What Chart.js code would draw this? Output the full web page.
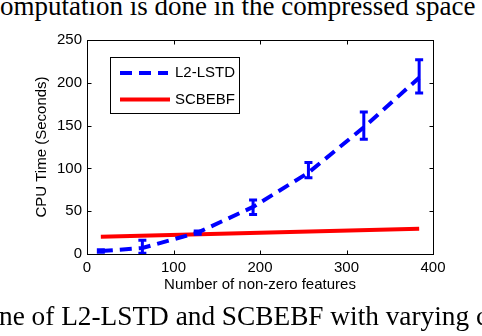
<!DOCTYPE html>
<html>
<head>
<meta charset="utf-8">
<script src="https://cdn.jsdelivr.net/npm/chart.js@4.4.1/dist/chart.umd.min.js"></script>
<style>
  html, body { margin: 0; padding: 0; background: #fff; }
  #wrap { position: relative; width: 482px; height: 336px; overflow: hidden; background: #fff; }
  #chart { position: absolute; left: 0; top: 0; }
  .caption { position: absolute; white-space: nowrap; font-family: "Liberation Serif", "Times New Roman", serif; color: #000; line-height: 30px; }
  #capTop { left: -12px; top: -9px; font-size: 27px; }
  #capBottom { left: -1px; top: 301px; font-size: 27.3px; }
</style>
</head>
<body>
<div id="wrap">
  <div class="caption" id="capTop">computation is done in the compressed space</div>
  <canvas id="chart" width="482" height="336"></canvas>
  <div class="caption" id="capBottom">ne of L2-LSTD and SCBEBF with varying c</div>
</div>
<script>
// values
const features = [16, 64, 128, 192, 256, 320, 384];
const lstdTime = [3.5, 7, 25, 55, 95, 148, 206];
const lstdLow = [2, 1, 23, 46, 89, 134, 188];
const lstdHigh = [5, 16, 27, 63, 107, 166, 227];
const scbebfX = [16, 384];
const scbebfTime = [20.2, 29.6];
const xTicks = [0, 100, 200, 300, 400];
const yTicks = [0, 50, 100, 150, 200, 250];

const axisFont = { family: "'Liberation Sans', Arial, Helvetica, sans-serif", size: 15 };

// matlab-style box, inward ticks, error bars and legend
const matlabDecor = {
  id: 'matlabDecor',
  afterDatasetsDraw(chart) {
    const ctx = chart.ctx;
    const xs = chart.scales.x, ys = chart.scales.y;
    const a = chart.chartArea;

    // error bars
    ctx.save();
    ctx.strokeStyle = '#0000ff';
    ctx.lineWidth = 3;
    for (let i = 0; i < features.length; i++) {
      const px = xs.getPixelForValue(features[i]);
      const lo = ys.getPixelForValue(lstdLow[i]);
      const hi = ys.getPixelForValue(lstdHigh[i]);
      ctx.beginPath();
      ctx.moveTo(px, lo); ctx.lineTo(px, hi);
      ctx.moveTo(px - 4, lo); ctx.lineTo(px + 4, lo);
      ctx.moveTo(px - 4, hi); ctx.lineTo(px + 4, hi);
      ctx.stroke();
    }
    ctx.restore();

    // box + ticks
    ctx.save();
    ctx.strokeStyle = '#000';
    ctx.lineWidth = 1;
    const L = Math.round(a.left) + 0.5, R = Math.round(a.right) + 0.5;
    const T = Math.round(a.top) + 0.5, B = Math.round(a.bottom) + 0.5;
    ctx.strokeRect(L, T, R - L, B - T);
    ctx.beginPath();
    xTicks.forEach(v => {
      const px = Math.round(xs.getPixelForValue(v)) + 0.5;
      ctx.moveTo(px, B); ctx.lineTo(px, B - 4);
      ctx.moveTo(px, T); ctx.lineTo(px, T + 4);
    });
    yTicks.forEach(v => {
      const py = Math.round(ys.getPixelForValue(v)) + 0.5;
      ctx.moveTo(L, py); ctx.lineTo(L + 4, py);
      ctx.moveTo(R, py); ctx.lineTo(R - 4, py);
    });
    ctx.stroke();

    // legend box
    ctx.fillStyle = '#fff';
    ctx.fillRect(110.5, 57.5, 129, 56);
    ctx.strokeRect(110.5, 57.5, 129, 56);
    ctx.lineWidth = 4;
    ctx.strokeStyle = '#0000ff';
    ctx.setLineDash([12, 7]);
    ctx.beginPath(); ctx.moveTo(120, 73); ctx.lineTo(168, 73); ctx.stroke();
    ctx.setLineDash([]);
    ctx.strokeStyle = '#ff0000';
    ctx.beginPath(); ctx.moveTo(120, 99.5); ctx.lineTo(170, 99.5); ctx.stroke();
    ctx.fillStyle = '#000';
    ctx.font = "15px 'Liberation Sans', Arial, sans-serif";
    ctx.textBaseline = 'middle';
    ctx.fillText(chart.data.datasets[0].label, 175, 73);
    ctx.fillText(chart.data.datasets[1].label, 175, 99.5);
    ctx.restore();
  }
};

new Chart(document.getElementById('chart'), {
  type: 'line',
  data: {
    datasets: [{
      label: 'L2-LSTD',
      data: features.map((x, i) => ({ x: x, y: lstdTime[i] })),
      borderColor: '#0000ff',
      borderWidth: 4,
      borderDash: [12, 7],
      pointRadius: 0,
      tension: 0,
      fill: false
    }, {
      label: 'SCBEBF',
      data: scbebfX.map((x, i) => ({ x: x, y: scbebfTime[i] })),
      borderColor: '#ff0000',
      borderWidth: 4,
      pointRadius: 0,
      tension: 0,
      fill: false
    }]
  },
  options: {
    responsive: false,
    animation: false,
    layout: { padding: { left: 33, top: 40, right: 49, bottom: 42.5 } },
    plugins: { legend: { display: false }, tooltip: { enabled: false } },
    scales: {
      x: {
        type: 'linear', min: 0, max: 400,
        afterBuildTicks: s => { s.ticks = xTicks.map(v => ({ value: v })); },
        afterFit: s => { s.height = 39.5; },
        grid: { display: false, drawTicks: false },
        border: { display: false },
        ticks: { color: '#000', font: axisFont, padding: 5, maxRotation: 0 },
        title: { display: true, text: 'Number of non-zero features', color: '#000', font: axisFont, padding: 0 }
      },
      y: {
        min: 0, max: 250,
        afterBuildTicks: s => { s.ticks = yTicks.map(v => ({ value: v })); },
        afterFit: s => { s.width = 54; },
        grid: { display: false, drawTicks: false },
        border: { display: false },
        ticks: { color: '#000', font: axisFont, padding: 5 },
        title: { display: true, text: 'CPU Time (Seconds)', color: '#000', font: axisFont, padding: 0 }
      }
    }
  },
  plugins: [matlabDecor]
});
</script>
</body>
</html>
